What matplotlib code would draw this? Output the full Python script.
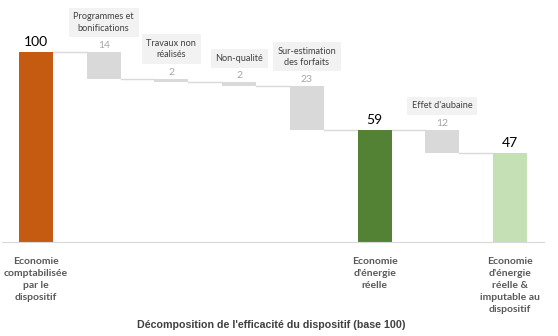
import numpy as np
import matplotlib.pyplot as plt

plt.rcParams['font.family'] = ['Lato', 'DejaVu Sans']

steps = ["Economie\ncomptabilisée\npar le\ndispositif",
         "Programmes et\nbonifications",
         "Travaux non\nréalisés",
         "Non-qualité",
         "Sur-estimation\ndes forfaits",
         "Economie\nd'énergie\nréelle",
         "Effet d'aubaine",
         "Economie\nd'énergie\nréelle &\nimputable au\ndispositif"]
values = [100, -14, -2, -2, -23, 59, -12, 47]
is_total = [True, False, False, False, False, True, False, True]
total_colors = ["#C55A11", "#548235", "#C5E0B4"]

fig = plt.figure(figsize=(5.58, 3.36), dpi=100)
ax = fig.add_axes([2/558, 94/336, 542/558, 242/336])

x = np.arange(len(values))
bottoms, heights, colors, after = [], [], [], []
level = 0
tc = iter(total_colors)
for v, tot in zip(values, is_total):
    if tot:
        bottoms.append(0)
        heights.append(v)
        colors.append(next(tc))
        level = v
    else:
        bottoms.append(level + v)
        heights.append(-v)
        colors.append("#D9D9D9")
        level = level + v
    after.append(level)

w = 0.5
ax.bar(x, heights, bottom=bottoms, width=w, color=colors, zorder=2)

# connector lines
for i in range(len(x) - 1):
    ax.plot([x[i] + w/2, x[i+1] - w/2], [after[i], after[i]],
            color="#D9D9D9", lw=1, zorder=1)

for i in range(len(x)):
    top = bottoms[i] + heights[i]
    if is_total[i]:
        ax.annotate(str(values[i]), (x[i], top), xytext=(0, 3),
                    textcoords="offset points", ha="center", va="bottom",
                    fontsize=10, color="black")
    else:
        ax.annotate(str(-values[i]), (x[i], top), xytext=(0, 1.5),
                    textcoords="offset points", ha="center", va="bottom",
                    fontsize=7.5, color="#A6A6A6")
        ax.annotate(steps[i], (x[i], top), xytext=(0, 14),
                    textcoords="offset points", ha="center", va="bottom",
                    fontsize=6.6, color="#404040", linespacing=1.3,
                    bbox=dict(boxstyle="square,pad=0.5", fc="#F2F2F2", ec="none"))

ax.set_xticks(x)
ax.set_xticklabels([s if t else "" for s, t in zip(steps, is_total)],
                   fontsize=7.5, color="#595959", fontweight="bold",
                   linespacing=1.45)
for lbl in ax.get_xticklabels():
    lbl.set_multialignment("center")
ax.tick_params(axis="x", length=0, pad=10.5)
ax.set_yticks([])
ax.set_xlim(-0.5, 7.5)
ax.set_ylim(0, 242/1.9)
for s in ["top", "left", "right"]:
    ax.spines[s].set_visible(False)
ax.spines["bottom"].set_color("#D9D9D9")

fig.text(0.486, 0.033, "Décomposition de l'efficacité du dispositif (base 100)",
         ha="center", va="center", fontsize=7.7, fontweight="bold",
         color="#404040", family=["Liberation Sans", "DejaVu Sans"])

fig.savefig("out.png", dpi=100)
